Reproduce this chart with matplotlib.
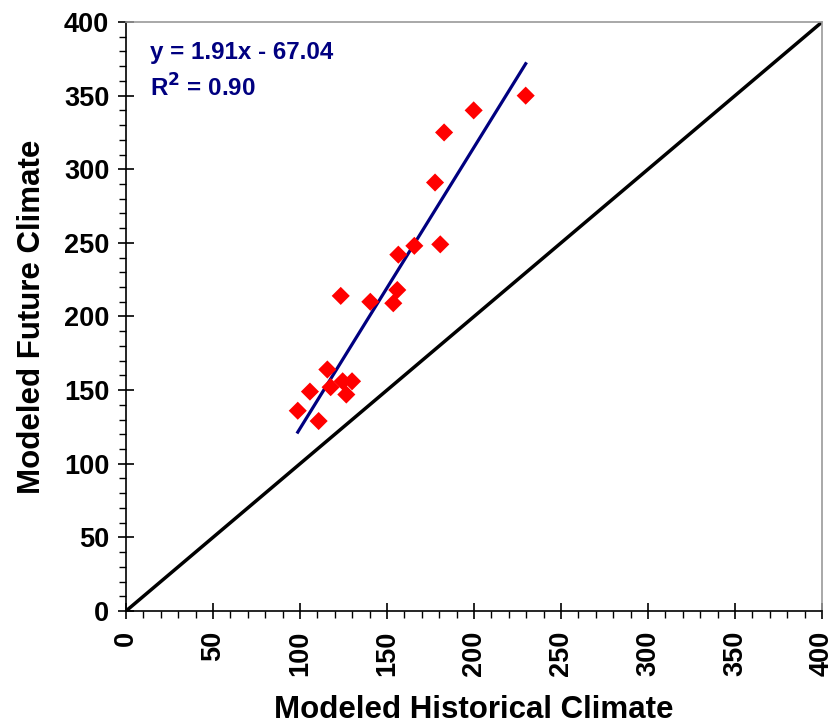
import matplotlib
matplotlib.use("Agg")
import matplotlib.pyplot as plt
from matplotlib.ticker import MultipleLocator
import numpy as np

plt.rcParams['font.family'] = ['Liberation Sans', 'DejaVu Sans']

hist = [229.7, 199.8, 182.8, 177.6, 180.6, 165.7, 156.5, 123.4, 155.9, 140.4,
        153.6, 115.7, 117.6, 124.5, 129.9, 105.7, 126.6, 98.7, 110.7]
future = [350.0, 340.0, 325.0, 291.0, 249.0, 248.0, 242.0, 214.0, 218.0, 210.0,
          209.0, 164.0, 152.0, 156.0, 156.0, 149.0, 147.0, 136.0, 129.0]
slope = 1.91
intercept = -67.04
eq_text = "y = 1.91x - 67.04"
r2_text = "R$^{\\mathbf{2}}$ = 0.90"
ticks = [0, 50, 100, 150, 200, 250, 300, 350, 400]

fig = plt.figure(figsize=(8.33, 7.27), dpi=100)
ax = fig.add_axes([0.1513, 0.1596, 0.8355, 0.8101])

# 1:1 line
ax.plot([0, 400], [0, 400], color='black', lw=2.5, zorder=2)

# regression line
xl = np.array([min(hist), max(hist)])
ax.plot(xl, slope * xl + intercept, color='#000080', lw=2.3, zorder=3)

ax.scatter(hist, future, marker='D', s=85, color='#ff0000', edgecolors='none', zorder=4)

ax.set_xlim(0, 400)
ax.set_ylim(0, 400)
ax.set_xticks(ticks)
ax.set_yticks(ticks)
ax.xaxis.set_minor_locator(MultipleLocator(10))
ax.yaxis.set_minor_locator(MultipleLocator(10))
ax.tick_params(which='major', direction='inout', length=12, width=1.2, color='black')
ax.tick_params(which='minor', direction='out', length=5, width=1.0, color='black')
ax.tick_params(axis='both', labelsize=19.5)
ax.tick_params(axis='x', pad=8)
ax.tick_params(axis='y', pad=6)
for lab in ax.get_xticklabels():
    lab.set_rotation(90)
    lab.set_fontweight('bold')
for lab in ax.get_yticklabels():
    lab.set_fontweight('bold')

for s in ['top', 'right']:
    ax.spines[s].set_color('#999999')
    ax.spines[s].set_linewidth(1.2)
for s in ['left', 'bottom']:
    ax.spines[s].set_color('black')
    ax.spines[s].set_linewidth(1.2)

ax.set_xlabel('Modeled Historical Climate', fontsize=22.5, fontweight='bold', labelpad=14)
ax.set_ylabel('Modeled Future Climate', fontsize=22.5, fontweight='bold', labelpad=12)

ax.text(0.034, 0.949, eq_text, transform=ax.transAxes, fontsize=17.4, fontweight='bold',
        color='#000080', va='center', ha='left')
ax.text(0.034, 0.888, r2_text, transform=ax.transAxes, fontsize=17.4, fontweight='bold',
        color='#000080', va='center', ha='left')

fig.savefig('out.png', dpi=100)
